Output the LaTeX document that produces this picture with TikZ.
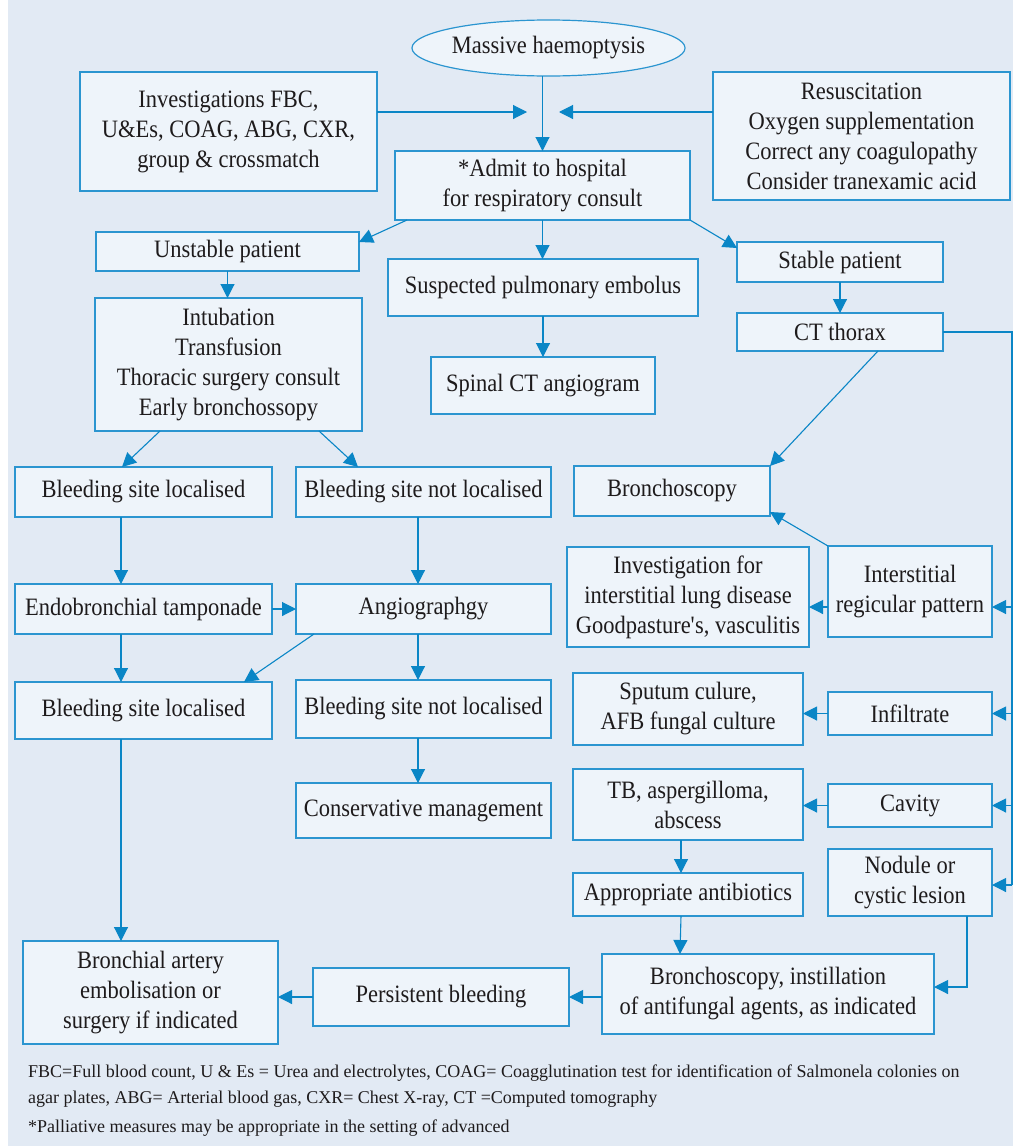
\documentclass[tikz,border=0pt]{standalone}
\usepackage{fontspec}
\setmainfont{Liberation Serif}[FakeStretch=0.9]
\newfontfamily\notefont{Liberation Serif}
\usetikzlibrary{arrows.meta,calc,shapes.geometric}
\definecolor{bgc}{HTML}{E2EAF4}
\definecolor{boxc}{HTML}{EEF4FA}
\definecolor{linec}{HTML}{2B95D0}
\definecolor{arrc}{HTML}{0A86C6}
\definecolor{txtc}{HTML}{1E1B1C}
\begin{document}
\begin{tikzpicture}[x=1pt,y=-1pt,
 box/.style={draw=linec, fill=boxc, line width=1.2pt, inner sep=0pt, outer sep=0pt,
   anchor=north west, align=center, text=txtc, font=\fontsize{25}{30}\selectfont},
 arr/.style={draw=arrc, line width=1.1pt, -{Triangle[length=14pt,width=14pt]}},
 ln/.style={draw=arrc, line width=1.1pt},
 note/.style={anchor=base west, inner sep=0pt, text=txtc, font=\notefont\fontsize{18}{26}\selectfont}]
\useasboundingbox (0,0) rectangle (1013,1146);
\fill[bgc] (8,0) rectangle (1013,1146);

% nodes
\node[box, ellipse, anchor=center, minimum width=251pt, minimum height=56pt] (mh) at (548.5,48) {Massive haemoptysis};
\node[box, minimum width=297pt, minimum height=119pt] (inv) at (80,72) {Investigations FBC,\\U\&Es, COAG, ABG, CXR,\\group \& crossmatch};
\node[box, minimum width=297pt, minimum height=128pt] (res) at (713,72) {Resuscitation\\Oxygen supplementation\\Correct any coagulopathy\\Consider tranexamic acid};
\node[box, minimum width=295pt, minimum height=69pt] (adm) at (395,151) {*Admit to hospital\\for respiratory consult};
\node[box, minimum width=263pt, minimum height=39pt] (uns) at (96,232) {Unstable patient};
\node[box, minimum width=310pt, minimum height=57pt] (sus) at (388,259) {Suspected pulmonary embolus};
\node[box, minimum width=206pt, minimum height=40pt] (sta) at (737,242) {Stable patient};
\node[box, minimum width=267pt, minimum height=133pt] (itb) at (95,298) {Intubation\\Transfusion\\Thoracic surgery consult\\Early bronchossopy};
\node[box, minimum width=224pt, minimum height=57pt] (spi) at (431,357) {Spinal CT angiogram};
\node[box, minimum width=206pt, minimum height=38pt] (ctt) at (737,313) {CT thorax};
\node[box, minimum width=257pt, minimum height=50pt] (bl1) at (15,467) {Bleeding site localised};
\node[box, minimum width=255pt, minimum height=50pt] (bn1) at (296,467) {Bleeding site not localised};
\node[box, minimum width=196pt, minimum height=50pt] (brc) at (574,466) {Bronchoscopy};
\node[box, minimum width=242pt, minimum height=100pt] (ild) at (567,547) {Investigation for\\interstitial lung disease\\Goodpasture\textquotesingle s, vasculitis};
\node[box, minimum width=164pt, minimum height=91pt] (int) at (828,546) {Interstitial\\regicular pattern};
\node[box, minimum width=257pt, minimum height=50pt] (end) at (15,584) {Endobronchial tamponade};
\node[box, minimum width=255pt, minimum height=50pt] (ang) at (296,584) {Angiographgy};
\node[box, minimum width=257pt, minimum height=57pt] (bl2) at (15,682) {Bleeding site localised};
\node[box, minimum width=255pt, minimum height=58pt] (bn2) at (296,680) {Bleeding site not localised};
\node[box, minimum width=230pt, minimum height=72pt] (spu) at (573,673) {Sputum culure,\\AFB fungal culture};
\node[box, minimum width=164pt, minimum height=43pt] (inf) at (828,692) {Infiltrate};
\node[box, minimum width=255pt, minimum height=55pt] (con) at (296,783) {Conservative management};
\node[box, minimum width=230pt, minimum height=71pt] (tbx) at (573,769) {TB, aspergilloma,\\abscess};
\node[box, minimum width=164pt, minimum height=43pt] (cav) at (828,784) {Cavity};
\node[box, minimum width=164pt, minimum height=67pt] (nod) at (828,849) {Nodule or\\cystic lesion};
\node[box, minimum width=230pt, minimum height=43pt] (abx) at (573,873) {Appropriate antibiotics};
\node[box, minimum width=255pt, minimum height=103pt] (bae) at (23,941) {Bronchial artery\\embolisation or\\surgery if indicated};
\node[box, minimum width=256pt, minimum height=58pt] (per) at (313,968) {Persistent bleeding};
\node[box, minimum width=332pt, minimum height=80pt] (bin) at (602,954) {Bronchoscopy, instillation\\of antifungal agents, as indicated};

% footnotes
\node[note] (fn1) at (28,1077) {FBC=Full blood count, U \& Es = Urea and electrolytes, COAG= Coagglutination test for identification of Salmonela colonies on};
\node[note] (fn2) at (28,1103) {agar plates, ABG= Arterial blood gas, CXR= Chest X-ray, CT =Computed tomography};
\node[note] (fn3) at (28,1132) {*Palliative measures may be appropriate in the setting of advanced};

% connectors
\coordinate (ti) at (527,112);
\coordinate (tr) at (559,112);
\draw[arr] (adm.north |- mh.south) -- (adm.north);
\draw[arr] (inv.east |- ti) -- (ti);
\draw[arr] (res.west |- tr) -- (tr);
\draw[arr] ($(adm.south west)+(12,0)$) -- ($(uns.north east)+(0,10)$);
\draw[arr] (adm.south) -- (adm.south |- sus.north);
\draw[arr] (adm.south east) -- ($(sta.north west)+(0,6)$);
\draw[arr] (uns.south) -- (uns.south |- itb.north);
\draw[arr] (sta.south) -- (sta.south |- ctt.north);
\draw[arr] (sus.south) -- (sus.south |- spi.north);
\draw[arr] ($(itb.south west)+(65,0)$) -- ($(bl1.north west)+(107,0)$);
\draw[arr] ($(itb.south west)+(224,0)$) -- ($(bn1.north west)+(62,0)$);
\draw[arr] ($(bl1.south west)+(106,0)$) -- ($(end.north west)+(106,0)$);
\draw[arr] ($(bn1.south west)+(122,0)$) -- ($(ang.north west)+(122,0)$);
\draw[arr] (end.east) -- (ang.west);
\draw[arr] ($(end.south west)+(106,0)$) -- ($(bl2.north west)+(106,0)$);
\draw[arr] ($(ang.south west)+(18,0)$) -- ($(bl2.north west)+(229,0)$);
\draw[arr] ($(ang.south west)+(122,0)$) -- ($(bn2.north west)+(122,0)$);
\draw[arr] ($(bn2.south west)+(122,0)$) -- ($(con.north west)+(122,0)$);
\draw[arr] ($(bl2.south west)+(106,0)$) -- ($(bae.north west)+(98,0)$);

\draw[arr] ($(ctt.south west)+(141,0)$) -- (brc.north east);
\draw[arr] (int.north west) -- ($(brc.south east)+(0,-4)$);
\coordinate (bus) at (1012,885);
\coordinate (yi) at (0,607);
\draw[ln] (ctt.east) -| (bus);
\draw[arr] (bus |- yi) -- (int.east |- yi);
\draw[arr] (bus |- inf.east) -- (inf.east);
\draw[arr] (bus |- cav.east) -- (cav.east);
\draw[arr] (bus) -- (nod.east |- bus);
\draw[arr] (int.west |- yi) -- (ild.east |- yi);
\draw[arr] (inf.west) -- (spu.east |- inf.west);
\draw[arr] (cav.west) -- (tbx.east |- cav.west);
\draw[arr] ($(tbx.south west)+(108,0)$) -- ($(abx.north west)+(108,0)$);
\draw[arr] ($(abx.south west)+(108,0)$) -- ($(bin.north west)+(78,0)$);
\draw[arr] ($(nod.south west)+(139,0)$) |- ($(bin.east)+(0,-7)$);
\draw[arr] (bin.west |- per.east) -- (per.east);
\draw[arr] (per.west) -- (bae.east |- per.west);
\end{tikzpicture}
\end{document}
